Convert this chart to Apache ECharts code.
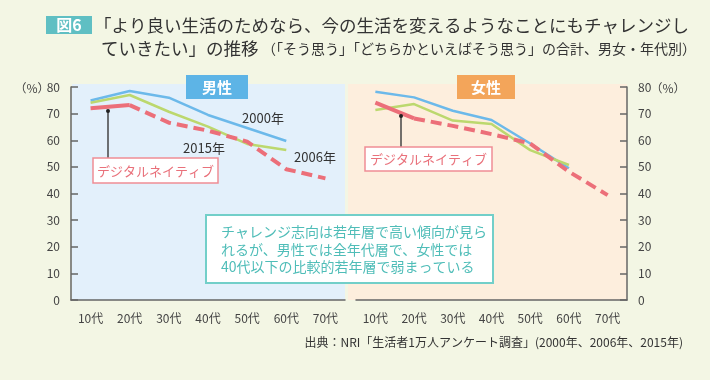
<!DOCTYPE html>
<html>
<head>
<meta charset="utf-8">
<script src="https://cdn.jsdelivr.net/npm/echarts@6/dist/echarts.min.js"></script>
<style>
html,body{margin:0;padding:0;background:#f3f6e4;}
#c{width:710px;height:380px;}
</style>
</head>
<body>
<div id="c"></div>
<script>
const categories = ['10代','20代','30代','40代','50代','60代','70代'];
const yTicks = [0,10,20,30,40,50,60,70,80];
const male2000 = [74.9, 78.5, 76.0, 69.5, 64.6, 59.7, null];
const male2006 = [74.1, 77.0, 70.7, 65.1, 58.6, 56.3, null];
const male2015 = [72.0, 73.2, 66.6, 63.6, 59.5, 49.1, 45.7];
const female2000 = [78.2, 76.1, 71.1, 67.6, 58.8, 49.5, null];
const female2006 = [71.4, 73.6, 67.4, 66.1, 56.3, 50.7, null];
const female2015 = [74.1, 68.2, 65.4, 62.3, 58.8, 48.2, 39.4];
const digitalNativeIdx = [0, 1];

const FONT = '"Noto Sans CJK JP", "Noto Sans", sans-serif';
const C2000 = '#6cb9ea', C2006 = '#bcd86e', C2015 = '#ec6f79';

function solidPart(arr){ return arr.map((v,i)=> digitalNativeIdx.includes(i) ? v : null); }
function dashedPart(arr){ return arr.map((v,i)=> i >= digitalNativeIdx[digitalNativeIdx.length-1] ? v : null); }

function seriesFor(idx, a2000, a2006, a2015){
  return [
    {type:'line', xAxisIndex:idx, yAxisIndex:idx, data:a2000, symbol:'none', lineStyle:{color:C2000,width:2.5}, z:3},
    {type:'line', xAxisIndex:idx, yAxisIndex:idx, data:a2006, symbol:'none', lineStyle:{color:C2006,width:2.5}, z:3},
    {type:'line', xAxisIndex:idx, yAxisIndex:idx, data:dashedPart(a2015), symbol:'none', lineStyle:{color:C2015,width:4,type:[11,6]}, z:4},
    {type:'line', xAxisIndex:idx, yAxisIndex:idx, data:solidPart(a2015), symbol:'none', lineStyle:{color:C2015,width:4}, z:4}
  ];
}

const axisTxt = {color:'#444', fontSize:12, fontFamily:FONT};
const chart = echarts.init(document.getElementById('c'));
chart.setOption({
  animation:false,
  backgroundColor:'#f3f6e4',
  grid:[
    {left:71, right:365, top:87, bottom:80},
    {left:356, right:83, top:87, bottom:80}
  ],
  xAxis:[0,1].map(i=>({
    type:'category', gridIndex:i, data:categories, boundaryGap:true,
    axisLine:{lineStyle:{color:'#666',width:1.5}}, axisTick:{show:false},
    axisLabel:Object.assign({margin:12}, axisTxt)
  })),
  yAxis:[0,1].map(i=>({
    type:'value', gridIndex:i, min:yTicks[0], max:yTicks[yTicks.length-1], interval:10,
    position: i===0 ? 'left' : 'right',
    axisLine:{show:true, lineStyle:{color:'#666',width:1.5}},
    axisTick:{show:true, inside:true, length:7, lineStyle:{color:'#666',width:1.5}},
    splitLine:{show:false},
    axisLabel:Object.assign({margin:11}, axisTxt)
  })),
  series:[].concat(seriesFor(0, male2000, male2006, male2015), seriesFor(1, female2000, female2006, female2015)),
  graphic:[
    {type:'rect', z:-10, shape:{x:72,y:84,width:273,height:216}, style:{fill:'#e3f0fb'}},
    {type:'rect', z:-10, shape:{x:348,y:84,width:279,height:216}, style:{fill:'#fdeedd'}},
    // title
    {type:'rect', shape:{x:46,y:16,width:46,height:18}, style:{fill:'#5fbfc3'}},
    {type:'text', x:69, y:25, style:{text:'図6', fill:'#fff', font:'bold 16px '+FONT, align:'center', verticalAlign:'middle'}},
    {type:'text', x:94, y:25, style:{text:'「より良い生活のためなら、今の生活を変えるようなことにもチャレンジし', fill:'#333', font:'17.5px '+FONT, verticalAlign:'middle'}},
    {type:'text', x:101, y:48, style:{text:'ていきたい」の推移', fill:'#333', font:'17.5px '+FONT, verticalAlign:'middle'}},
    {type:'text', x:262, y:49, style:{text:'（「そう思う」「どちらかといえばそう思う」の合計、男女・年代別）', fill:'#333', font:'14px '+FONT, verticalAlign:'middle'}},
    // (%)
    {type:'text', x:32, y:88, style:{text:'（%）', fill:'#444', font:'12px '+FONT, align:'center', verticalAlign:'middle'}},
    {type:'text', x:668, y:88, style:{text:'（%）', fill:'#444', font:'12px '+FONT, align:'center', verticalAlign:'middle'}},
    // panel labels
    {type:'rect', shape:{x:186,y:75,width:62,height:24}, style:{fill:'#5db4e6'}},
    {type:'text', x:217, y:87, style:{text:'男性', fill:'#fff', font:'bold 15px '+FONT, align:'center', verticalAlign:'middle'}},
    {type:'rect', shape:{x:457,y:75,width:58,height:24}, style:{fill:'#f3a55a'}},
    {type:'text', x:486, y:87, style:{text:'女性', fill:'#fff', font:'bold 15px '+FONT, align:'center', verticalAlign:'middle'}},
    // year labels
    {type:'text', x:263, y:118, z:10, style:{text:'2000年', fill:'#333', font:'13px '+FONT, align:'center', verticalAlign:'middle'}},
    {type:'text', x:204, y:148, z:10, style:{text:'2015年', fill:'#333', font:'13px '+FONT, align:'center', verticalAlign:'middle'}},
    {type:'text', x:315, y:157, z:10, style:{text:'2006年', fill:'#333', font:'13px '+FONT, align:'center', verticalAlign:'middle'}},
    // digital native pointers
    {type:'line', z:10, shape:{x1:108,y1:111,x2:108,y2:158}, style:{stroke:'#444',lineWidth:1.5}},
    {type:'circle', z:10, shape:{cx:108,cy:111,r:2}, style:{fill:'#222'}},
    {type:'rect', z:10, shape:{x:93,y:158,width:125,height:25}, style:{fill:'#fff',stroke:'#ef8d95',lineWidth:1.5}},
    {type:'text', z:11, x:155.5, y:171, style:{text:'デジタルネイティブ', fill:'#e9717b', font:'13px '+FONT, align:'center', verticalAlign:'middle'}},
    {type:'line', z:10, shape:{x1:401,y1:116,x2:401,y2:147}, style:{stroke:'#444',lineWidth:1.5}},
    {type:'circle', z:10, shape:{cx:401,cy:116,r:2}, style:{fill:'#222'}},
    {type:'rect', z:10, shape:{x:365,y:147,width:127,height:24}, style:{fill:'#fff',stroke:'#ef8d95',lineWidth:1.5}},
    {type:'text', z:11, x:428.5, y:159.5, style:{text:'デジタルネイティブ', fill:'#e9717b', font:'13px '+FONT, align:'center', verticalAlign:'middle'}},
    // note box
    {type:'rect', z:10, shape:{x:206,y:215,width:287,height:68}, style:{fill:'#fff',stroke:'#72cfc9',lineWidth:2}},
    {type:'text', z:11, x:221, y:232, style:{text:'チャレンジ志向は若年層で高い傾向が見ら', fill:'#4fbdb8', font:'14px '+FONT, verticalAlign:'middle'}},
    {type:'text', z:11, x:221, y:249.5, style:{text:'れるが、男性では全年代層で、女性では', fill:'#4fbdb8', font:'14px '+FONT, verticalAlign:'middle'}},
    {type:'text', z:11, x:221, y:267, style:{text:'40代以下の比較的若年層で弱まっている', fill:'#4fbdb8', font:'14px '+FONT, verticalAlign:'middle'}},
    // source
    {type:'text', x:683, y:342, style:{text:'出典：NRI「生活者1万人アンケート調査」(2000年、2006年、2015年)', fill:'#333', font:'12px '+FONT, align:'right', verticalAlign:'middle'}}
  ]
});
</script>
</body>
</html>
